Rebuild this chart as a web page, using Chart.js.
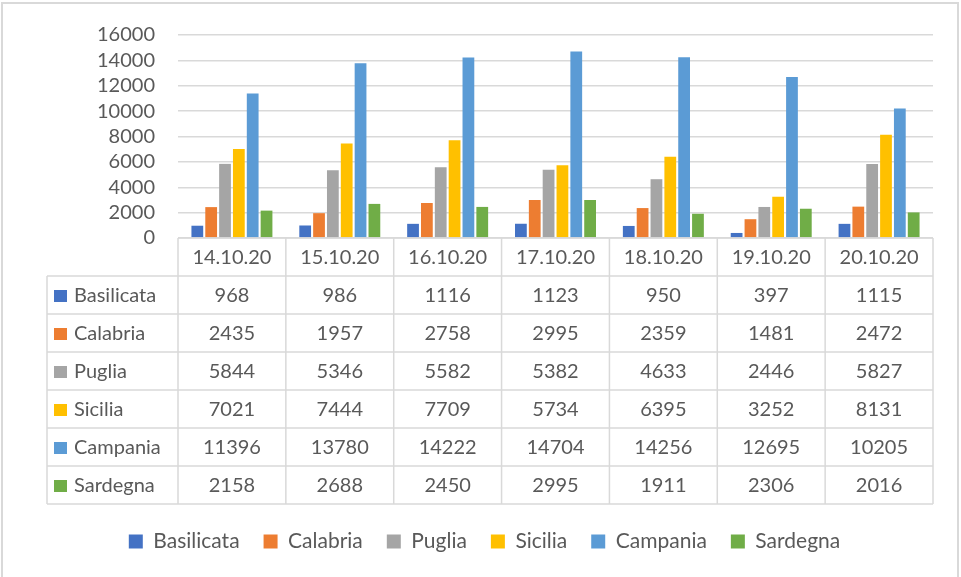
<!DOCTYPE html>
<html>
<head>
<meta charset="utf-8">
<script src="https://cdn.jsdelivr.net/npm/chart.js@4"></script>
<style>
  html, body { margin: 0; padding: 0; background: #ffffff; }
  #wrap { width: 961px; height: 577px; position: relative; }
</style>
</head>
<body>
<div id="wrap"><canvas id="c" width="961" height="577"></canvas></div>
<script>
const categories = ['14.10.20', '15.10.20', '16.10.20', '17.10.20', '18.10.20', '19.10.20', '20.10.20'];
const seriesNames = ['Basilicata', 'Calabria', 'Puglia', 'Sicilia', 'Campania', 'Sardegna'];
const basilicata = [968, 986, 1116, 1123, 950, 397, 1115];
const calabria = [2435, 1957, 2758, 2995, 2359, 1481, 2472];
const puglia = [5844, 5346, 5582, 5382, 4633, 2446, 5827];
const sicilia = [7021, 7444, 7709, 5734, 6395, 3252, 8131];
const campania = [11396, 13780, 14222, 14704, 14256, 12695, 10205];
const sardegna = [2158, 2688, 2450, 2995, 1911, 2306, 2016];
const yMin = 0, yMax = 16000, yStep = 2000;

const seriesValues = [basilicata, calabria, puglia, sicilia, campania, sardegna];
const colors = ['#4472C4', '#ED7D31', '#A5A5A5', '#FFC000', '#5B9BD5', '#70AD47'];
const FONT = 'Lato';
const TEXT = '#595959';
const LINE = '#d9d9d9';
const TABLE_H = 266;

const tablePlugin = {
  id: 'dataTable',
  beforeDraw(chart) {
    const ctx = chart.ctx;
    ctx.save();
    ctx.strokeStyle = LINE;
    ctx.lineWidth = 2;
    ctx.strokeRect(2, 3, 956, 620);
    ctx.restore();
  },
  afterDraw(chart) {
    const ctx = chart.ctx;
    const xs = chart.scales.x;
    const n = categories.length;
    const rows = seriesNames.length + 1;
    const top = xs.top;
    const bottom = top + TABLE_H;
    const rowH = TABLE_H / rows;
    const colW = (xs.right - xs.left) / n;
    const tableLeft = 47;
    ctx.save();
    ctx.strokeStyle = LINE;
    ctx.lineWidth = 1.5;
    ctx.beginPath();
    ctx.moveTo(xs.left, top); ctx.lineTo(xs.right, top);
    for (let r = 1; r <= rows; r++) {
      const y = top + r * rowH;
      ctx.moveTo(tableLeft, y); ctx.lineTo(xs.right, y);
    }
    for (let c = 0; c <= n; c++) {
      const x = xs.left + c * colW;
      ctx.moveTo(x, top); ctx.lineTo(x, bottom);
    }
    ctx.moveTo(tableLeft, top + rowH); ctx.lineTo(tableLeft, bottom);
    ctx.stroke();

    ctx.fillStyle = TEXT;
    ctx.font = '20px ' + FONT;
    ctx.textBaseline = 'middle';
    ctx.textAlign = 'center';
    for (let c = 0; c < n; c++) {
      const cx = xs.getPixelForValue(c);
      ctx.fillText(categories[c], cx, top + rowH / 2 + 1);
    }
    for (let s = 0; s < seriesNames.length; s++) {
      const cy = top + (s + 1) * rowH + rowH / 2 + 1;
      ctx.fillStyle = colors[s];
      ctx.fillRect(54, cy - 6, 13, 12);
      ctx.fillStyle = TEXT;
      ctx.textAlign = 'left';
      ctx.fillText(seriesNames[s], 74, cy);
      ctx.textAlign = 'center';
      for (let c = 0; c < n; c++) {
        ctx.fillText(String(seriesValues[s][c]), xs.getPixelForValue(c), cy);
      }
    }
    ctx.restore();
  }
};

new Chart(document.getElementById('c'), {
  type: 'bar',
  data: {
    labels: categories,
    datasets: seriesNames.map((name, i) => ({
      label: name,
      data: seriesValues[i],
      backgroundColor: colors[i],
      borderWidth: 0,
      categoryPercentage: 0.77,
      barPercentage: 0.85
    }))
  },
  options: {
    responsive: false,
    animation: false,
    devicePixelRatio: 1,
    layout: { padding: { top: 30, right: 28, bottom: 15, left: 36 } },
    plugins: {
      legend: {
        position: 'bottom',
        labels: {
          boxWidth: 14,
          boxHeight: 14,
          padding: 24,
          color: TEXT,
          font: { family: FONT, size: 21 }
        }
      },
      tooltip: { enabled: false },
      title: { display: false }
    },
    scales: {
      x: {
        ticks: { display: false },
        grid: { display: false, drawTicks: false },
        border: { display: false },
        afterFit(scale) { scale.height = TABLE_H + 3; }
      },
      y: {
        min: yMin,
        max: yMax,
        ticks: {
          stepSize: yStep,
          autoSkip: false,
          padding: 23,
          color: TEXT,
          font: { family: FONT, size: 20 },
          callback: (v) => String(v)
        },
        grid: { color: LINE, lineWidth: 1.5, drawTicks: false },
        border: { display: false },
        afterFit(scale) { scale.width = 142; }
      }
    }
  },
  plugins: [tablePlugin]
});
</script>
</body>
</html>
